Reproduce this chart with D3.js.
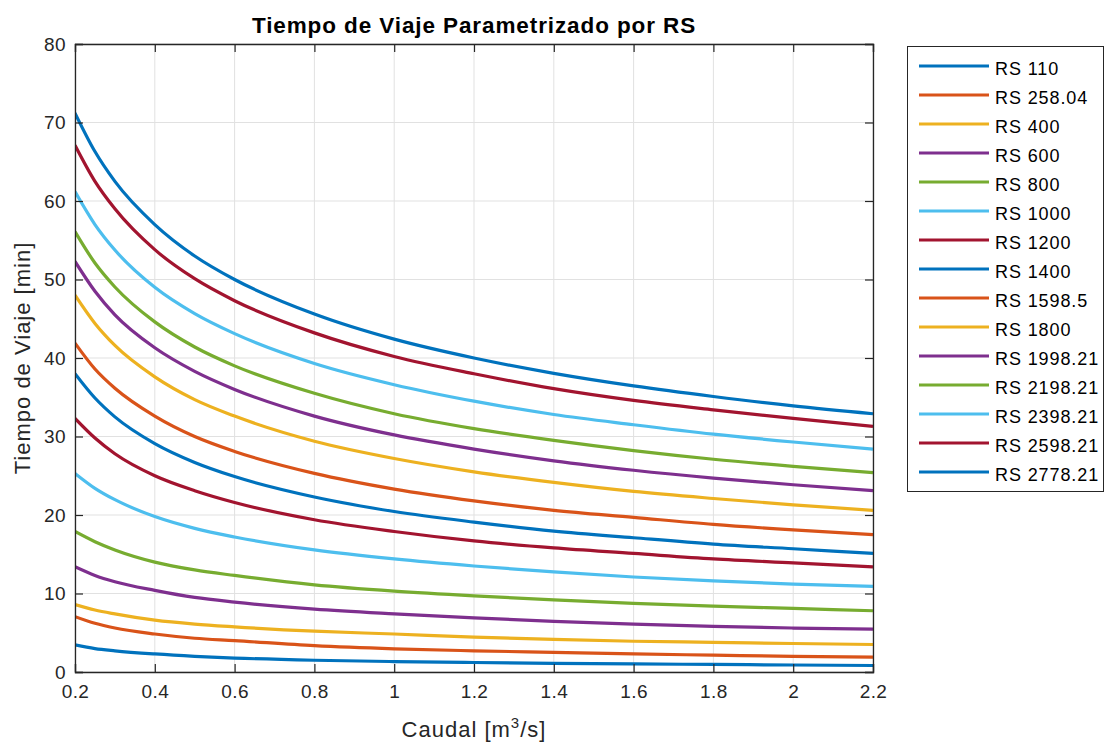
<!DOCTYPE html>
<html><head><meta charset="utf-8">
<script src="https://cdn.jsdelivr.net/npm/d3@7"></script>
<style>
body{margin:0;background:#fff;}
svg{display:block;font-family:"Liberation Sans",Arial,Helvetica,sans-serif;}
</style></head>
<body><svg id="c" width="1107" height="744"></svg>
<script>
// Caudal values (x) at which curves were read
const caudal = [0.2, 0.25, 0.3, 0.4, 0.5, 0.6, 0.8, 1.0, 1.2, 1.4, 1.6, 1.8, 2.0, 2.2];
const seriesNames = ["RS 110","RS 258.04","RS 400","RS 600","RS 800","RS 1000","RS 1200","RS 1400","RS 1598.5","RS 1800","RS 1998.21","RS 2198.21","RS 2398.21","RS 2598.21","RS 2778.21"];
const rs110     = [3.45, 2.98, 2.7, 2.3, 2.0, 1.78, 1.5, 1.33, 1.21, 1.11, 1.03, 0.96, 0.89, 0.83];
const rs258     = [7.05, 6.2, 5.6, 4.84, 4.3, 4.0, 3.35, 2.95, 2.7, 2.5, 2.3, 2.15, 2.0, 1.9];
const rs400     = [8.6, 7.9, 7.4, 6.6, 6.1, 5.75, 5.2, 4.84, 4.45, 4.15, 3.92, 3.78, 3.63, 3.5];
const rs600     = [13.4, 12.3, 11.5, 10.4, 9.5, 8.9, 8.0, 7.4, 6.9, 6.45, 6.1, 5.8, 5.6, 5.45];
const rs800     = [17.9, 16.6, 15.55, 14.0, 13.0, 12.3, 11.1, 10.3, 9.7, 9.2, 8.75, 8.4, 8.1, 7.8];
const rs1000    = [25.3, 23.4, 21.95, 19.8, 18.3, 17.2, 15.55, 14.4, 13.5, 12.75, 12.1, 11.6, 11.2, 10.9];
const rs1200    = [32.3, 29.8, 27.8, 25.0, 23.1, 21.6, 19.4, 17.9, 16.7, 15.8, 15.1, 14.4, 13.9, 13.4];
const rs1400    = [38.0, 34.9, 32.5, 29.1, 26.7, 24.9, 22.3, 20.45, 19.1, 17.95, 17.1, 16.3, 15.7, 15.1];
const rs1598    = [41.9, 38.6, 36.15, 32.6, 30.0, 28.1, 25.3, 23.3, 21.8, 20.6, 19.7, 18.8, 18.1, 17.5];
const rs1800    = [48.0, 44.4, 41.6, 37.6, 34.7, 32.6, 29.4, 27.2, 25.5, 24.15, 23.0, 22.1, 21.3, 20.6];
const rs1998    = [52.3, 48.5, 45.5, 41.3, 38.3, 36.0, 32.6, 30.2, 28.4, 26.9, 25.7, 24.7, 23.85, 23.1];
const rs2198    = [56.1, 52.1, 49.05, 44.6, 41.4, 39.0, 35.5, 32.9, 31.0, 29.5, 28.2, 27.1, 26.2, 25.4];
const rs2398    = [61.2, 57.0, 53.75, 49.0, 45.65, 43.1, 39.3, 36.6, 34.5, 32.8, 31.5, 30.3, 29.3, 28.4];
const rs2598    = [67.1, 62.5, 59.0, 53.8, 50.1, 47.3, 43.2, 40.2, 38.0, 36.1, 34.6, 33.4, 32.3, 31.3];
const rs2778    = [71.2, 66.3, 62.5, 57.0, 53.0, 50.0, 45.6, 42.4, 40.0, 38.05, 36.45, 35.1, 33.9, 32.9];
const xTicks = [0.2, 0.4, 0.6, 0.8, 1.0, 1.2, 1.4, 1.6, 1.8, 2.0, 2.2];
const xTickLabels = ["0.2","0.4","0.6","0.8","1","1.2","1.4","1.6","1.8","2","2.2"];
const yTicks = [0, 10, 20, 30, 40, 50, 60, 70, 80];
const colors = ["#0072BD","#D95319","#EDB120","#7E2F8E","#77AC30","#4DBEEE","#A2142F"];

const allSeries = [rs110, rs258, rs400, rs600, rs800, rs1000, rs1200, rs1400, rs1598, rs1800, rs1998, rs2198, rs2398, rs2598, rs2778];

const svg = d3.select("#c");
const L = 75, R = 873, T = 44, B = 672;
const x = d3.scaleLinear().domain([0.2, 2.2]).range([L, R]);
const y = d3.scaleLinear().domain([0, 80]).range([B, T]);
const axisColor = "#262626";
const FONT = "'Liberation Sans', Arial, sans-serif";

// grid
const g = svg.append("g");
g.selectAll(".gx").data(xTicks).enter().append("line")
  .attr("x1", d => x(d)).attr("x2", d => x(d)).attr("y1", T).attr("y2", B)
  .attr("stroke", "#e1e1e1").attr("stroke-width", 1);
g.selectAll(".gy").data(yTicks).enter().append("line")
  .attr("x1", L).attr("x2", R).attr("y1", d => y(d)).attr("y2", d => y(d))
  .attr("stroke", "#e1e1e1").attr("stroke-width", 1);

// curves
const line = d3.line().x((d, i) => x(caudal[i])).y(d => y(d)).curve(d3.curveMonotoneX);
svg.append("clipPath").attr("id", "clip").append("rect")
  .attr("x", L).attr("y", T).attr("width", R - L).attr("height", B - T);
svg.append("g").attr("clip-path", "url(#clip)").selectAll("path").data(allSeries).enter().append("path")
  .attr("d", d => line(d)).attr("fill", "none")
  .attr("stroke", (d, i) => colors[i % 7]).attr("stroke-width", 3.2)
  .attr("stroke-linejoin", "round");

// axes (MATLAB box style, ticks inward)
const tl = 8;
const fmtX = d => xTickLabels[xTicks.indexOf(d)];
svg.append("g").attr("transform", `translate(0,${B})`)
  .call(d3.axisBottom(x).tickValues(xTicks).tickSize(-tl).tickPadding(13).tickFormat(fmtX));
svg.append("g").attr("transform", `translate(0,${T})`)
  .call(d3.axisTop(x).tickValues(xTicks).tickSize(-tl).tickFormat(""));
svg.append("g").attr("transform", `translate(${L},0)`)
  .call(d3.axisLeft(y).tickValues(yTicks).tickSize(-tl).tickPadding(9));
svg.append("g").attr("transform", `translate(${R},0)`)
  .call(d3.axisRight(y).tickValues(yTicks).tickSize(-tl).tickFormat(""));
svg.selectAll(".domain").attr("stroke", axisColor).attr("stroke-width", 1.3);
svg.selectAll(".tick line").attr("stroke", axisColor).attr("stroke-width", 1.2);
svg.selectAll(".tick text").attr("fill", axisColor).style("font-size", "19px")
  .style("font-family", FONT).style("letter-spacing", "0.4px");

// title
svg.append("text").attr("x", (L + R) / 2).attr("y", 33).attr("text-anchor", "middle")
  .style("font-size", "22.5px").style("font-weight", "bold").style("letter-spacing", "0.9px")
  .attr("fill", "#000").text("Tiempo de Viaje Parametrizado por RS");

// x label
const xl = svg.append("text").attr("x", (L + R) / 2).attr("y", 737).attr("text-anchor", "middle")
  .style("font-size", "22px").style("letter-spacing", "1px").attr("fill", axisColor);
xl.append("tspan").text("Caudal [m");
xl.append("tspan").attr("dy", -9).style("font-size", "15px").text("3");
xl.append("tspan").attr("dy", 9).text("/s]");

// y label
svg.append("text").attr("transform", `translate(30,${(T + B) / 2}) rotate(-90)`)
  .attr("text-anchor", "middle").style("font-size", "22px").style("letter-spacing", "1px")
  .attr("fill", axisColor).text("Tiempo de Viaje [min]");

// legend
const lg = svg.append("g");
lg.append("rect").attr("x", 907.5).attr("y", 46.5).attr("width", 196).attr("height", 445)
  .attr("fill", "#fff").attr("stroke", axisColor).attr("stroke-width", 1);
const items = lg.selectAll(".it").data(seriesNames).enter().append("g")
  .attr("transform", (d, i) => `translate(0,${66 + i * 29})`);
items.append("line").attr("x1", 919).attr("x2", 989).attr("y1", 0).attr("y2", 0)
  .attr("stroke", (d, i) => colors[i % 7]).attr("stroke-width", 3.2);
items.append("text").attr("x", 995).attr("y", 9).style("font-size", "18px")
  .style("letter-spacing", "0.9px").attr("fill", "#000").text(d => d);
</script></body></html>
